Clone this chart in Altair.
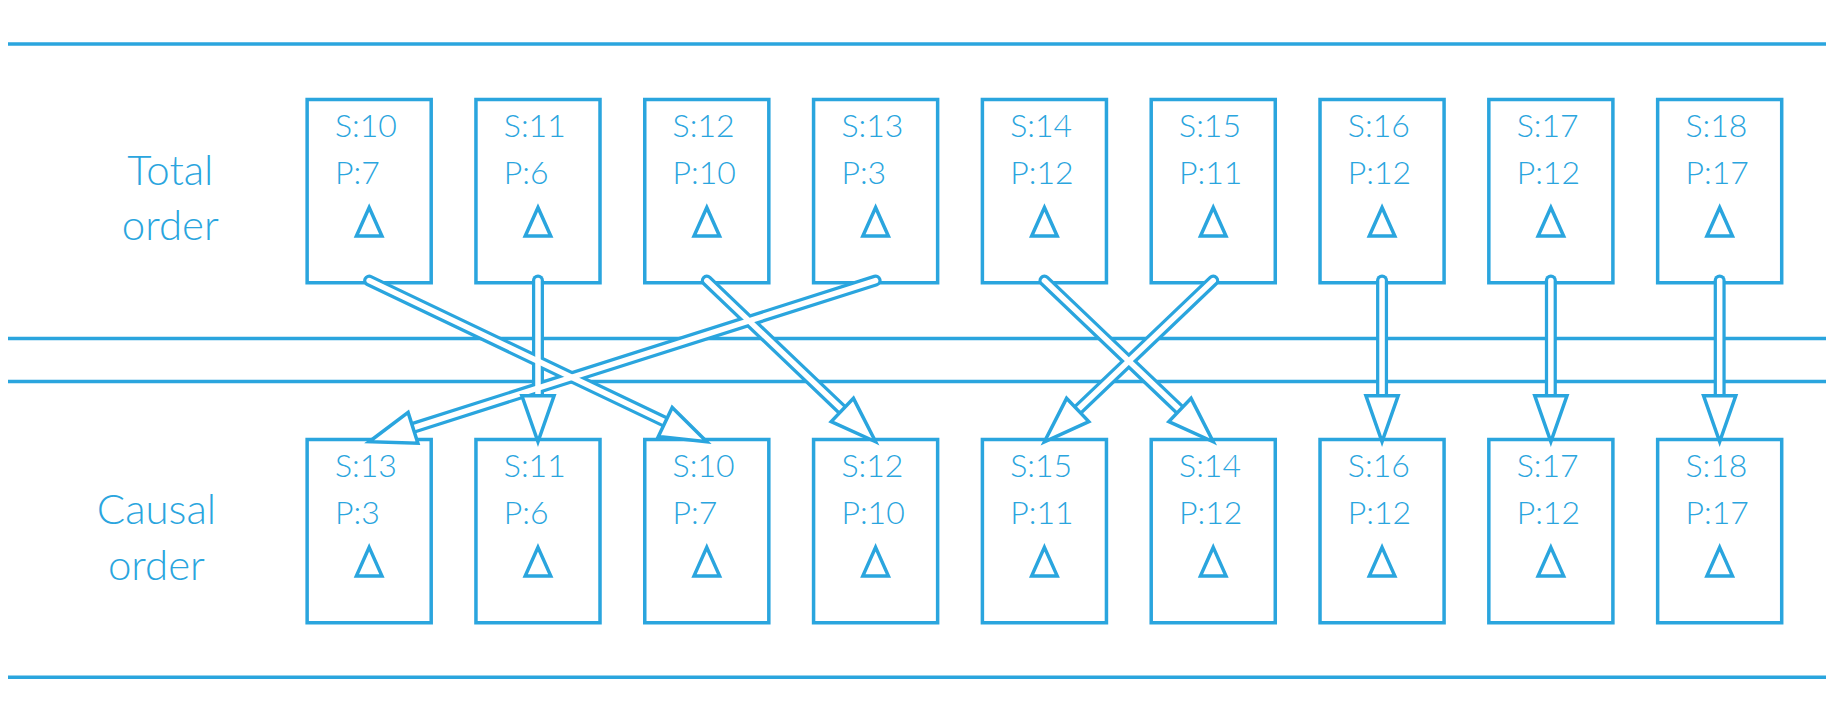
import altair as alt
import pandas as pd
import math

BLUE = "#2aa5de"
FONT = "Lato"

top_s = [10, 11, 12, 13, 14, 15, 16, 17, 18]
top_p = [7, 6, 10, 3, 12, 11, 12, 12, 17]
bot_s = [13, 11, 10, 12, 15, 14, 16, 17, 18]
bot_p = [3, 6, 7, 10, 11, 12, 12, 12, 17]
row_labels = [["Total", "order"], ["Causal", "order"]]
h_lines = [36, 290, 327, 582]

# layout (data units ~ displayed pixels)
X0, STEP, BW = 263, 145.6, 107
ROWS = [(84, 242), (377, 535)]
W, H = 1568, 607
K = 1818 / W
OFF = 5

boxes, texts, tris = [], [], []
for r, (ss, pp) in enumerate([(top_s, top_p), (bot_s, bot_p)]):
    y0, y1 = ROWS[r]
    for i, (s, p) in enumerate(zip(ss, pp)):
        x = X0 + i * STEP
        boxes.append(dict(x=x, x2=x + BW, y=y0, y2=y1))
        texts.append(dict(x=x + 24, y=y0 + 24, t=f"S:{s}"))
        texts.append(dict(x=x + 24, y=y0 + 64, t=f"P:{p}"))
        tris.append(dict(x=x + BW / 2, y=y0 + 106))

labels = []
for r, lab in enumerate(row_labels):
    cx = 145 if r == 0 else 133
    for j, t in enumerate(lab):
        labels.append(dict(x=cx, y=ROWS[r][0] + 62 + 48 * j, t=t))

shafts, heads = [], []
HL = 46
L = HL / K
for i, s in enumerate(top_s):
    j = bot_s.index(s)
    sx, sy = X0 + i * STEP + BW / 2, 240
    ex, ey = X0 + j * STEP + BW / 2, 379
    dx, dy = ex - sx, ey - sy
    n = math.hypot(dx, dy)
    ux, uy = dx / n, dy / n
    shafts.append(dict(x=sx, y=sy, x2=ex - ux * L * 0.95, y2=ey - uy * L * 0.95))
    ang = math.degrees(math.atan2(-dx, dy)) % 360
    heads.append(dict(x=ex - ux * L / 2, y=ey - uy * L / 2, a=ang))

xs = alt.Scale(domain=[OFF, W + OFF], nice=False, zero=False)
ys = alt.Scale(domain=[OFF, H + OFF], nice=False, zero=False, reverse=True)
X = lambda f="x": alt.X(f"{f}:Q", scale=xs, axis=None)
Y = lambda f="y": alt.Y(f"{f}:Q", scale=ys, axis=None)

lines = alt.Chart(pd.DataFrame(dict(y=h_lines))).mark_rule(color=BLUE, strokeWidth=3.5).encode(
    y=Y(), x=alt.value(-10), x2=alt.value(1840))
rects = alt.Chart(pd.DataFrame(boxes)).mark_rect(fill="white", stroke=BLUE, strokeWidth=3.5).encode(
    x=X(), x2="x2:Q", y=Y(), y2="y2:Q")
txt = alt.Chart(pd.DataFrame(texts)).mark_text(align="left", baseline="middle", font=FONT,
    fontSize=32, fontWeight=300, color=BLUE).encode(x=X(), y=Y(), text="t:N")
lab = alt.Chart(pd.DataFrame(labels)).mark_text(align="center", baseline="middle", font=FONT,
    fontSize=42, fontWeight=300, color=BLUE).encode(x=X(), y=Y(), text="t:N")
tri = alt.Chart(pd.DataFrame(tris)).mark_point(shape="M0,-1L0.85,0.9L-0.85,0.9Z", size=900,
    filled=False, stroke=BLUE, strokeWidth=3.5, opacity=1).encode(x=X(), y=Y())
sh_out = alt.Chart(pd.DataFrame(shafts)).mark_rule(color=BLUE, strokeWidth=12, strokeCap="round").encode(
    x=X(), x2="x2:Q", y=Y(), y2="y2:Q")
sh_in = alt.Chart(pd.DataFrame(shafts)).mark_rule(color="white", strokeWidth=5.5, strokeCap="round").encode(
    x=X(), x2="x2:Q", y=Y(), y2="y2:Q")
hd = alt.Chart(pd.DataFrame(heads)).mark_point(shape="M0,1L-0.7,-1L0.7,-1Z", size=HL * HL,
    filled=True, fill="white", stroke=BLUE, strokeWidth=3.5, opacity=1).encode(
    x=X(), y=Y(), angle=alt.Angle("a:Q", scale=None))

chart = alt.layer(lines, rects, txt, lab, tri, sh_out, sh_in, hd).properties(
    width=1818, height=704, padding=0, autosize="none", background="white"
).configure_view(stroke=None)
chart.save("out.html", embed_options={"renderer": "svg", "actions": False})
